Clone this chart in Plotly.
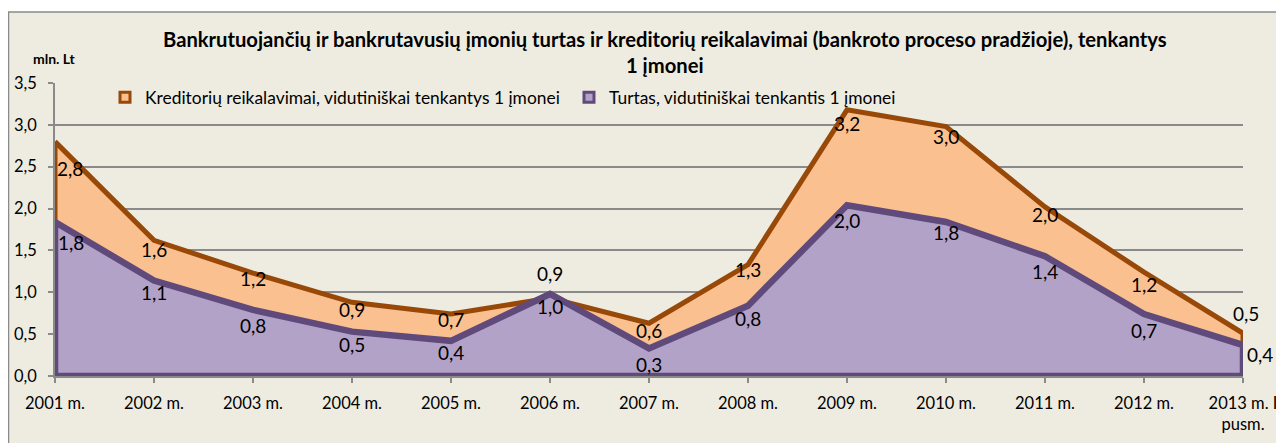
import plotly.graph_objects as go

# ---- data ----
categories = ["2001 m.", "2002 m.", "2003 m.", "2004 m.", "2005 m.", "2006 m.", "2007 m.",
              "2008 m.", "2009 m.", "2010 m.", "2011 m.", "2012 m.", "2013 m. I<br>pusm."]
kreditoriai = [2.80, 1.62, 1.23, 0.88, 0.74, 0.93, 0.63, 1.33, 3.18, 2.98, 2.02, 1.24, 0.51]
turtas = [1.84, 1.14, 0.79, 0.53, 0.42, 0.98, 0.33, 0.84, 2.04, 1.84, 1.43, 0.74, 0.37]
name_kred = "Kreditorių reikalavimai, vidutiniškai tenkantys 1 įmonei"
name_turtas = "Turtas, vidutiniškai tenkantis 1 įmonei"
title_line1 = "Bankrutuojančių ir bankrutavusių įmonių turtas ir kreditorių reikalavimai (bankroto proceso pradžioje), tenkantys"
title_line2 = "1 įmonei"
unit_label = "mln. Lt"
y_ticks = [0, 0.5, 1.0, 1.5, 2.0, 2.5, 3.0, 3.5]

# ---- label placement (pixel offsets of each value label from its point; style only) ----
kred_dy = [27, 9, 5, 7, 5, -25, 7, 5, 14, 10, 8, 12, -20]
kred_dx = [15, 0, 0, 0, 0, 0, 0, 0, 0, 0, 0, 0, 3]
tur_dy = [21, 12, 16, 13, 12, 13, 16, 13, 15, 11, 15, 16, 9]
tur_dx = [16, 0, 0, 0, 0, 0, 0, 0, 0, 0, 0, 0, 17]

# ---- styles ----
FONT = "Lato"
C_KRED_FILL, C_KRED_LINE = "#FAC090", "#984807"
C_TUR_FILL, C_TUR_LINE = "#B3A2C7", "#604A7B"
GRAY = "#8a8a8a"
BG = "#EEECE1"

OFF = 8  # page body margin offset
VW, VH = 1284, 443
W, H = VW - OFF, VH - OFF
PL, PR, PT, PB = 55, 1243, 83, 376  # plot area in page pixels
ML, MR, MT, MB = PL - OFF, VW - PR, PT - OFF, VH - PB
PW, PH = W - ML - MR, H - MT - MB


def px_x(p):
    return (p - PL) / PW


def px_y(p):
    return (PB - p) / PH


def closed(xs, ys):
    return xs + [xs[-1], xs[0], xs[0]], ys + [0, 0, ys[0]]


def fmt(v):
    return f"{v:.1f}".replace(".", ",")


fig = go.Figure()

kx, ky = closed(categories, kreditoriai)
fig.add_trace(go.Scatter(x=kx, y=ky, mode="lines", fill="toself", fillcolor=C_KRED_FILL,
                         line=dict(color=C_KRED_LINE, width=5), showlegend=False, hoverinfo="skip"))
tx, ty = closed(categories, turtas)
fig.add_trace(go.Scatter(x=tx, y=ty, mode="lines", fill="toself", fillcolor=C_TUR_FILL,
                         line=dict(color=C_TUR_LINE, width=6.5), showlegend=False, hoverinfo="skip"))

# legend entries
fig.add_trace(go.Scatter(x=[None], y=[None], mode="markers", name=name_kred, legend="legend",
                         marker=dict(symbol="square", size=10, color=C_KRED_FILL,
                                     line=dict(color=C_KRED_LINE, width=3))))
fig.add_trace(go.Scatter(x=[None], y=[None], mode="markers", name=name_turtas, legend="legend2",
                         marker=dict(symbol="square", size=10, color=C_TUR_FILL,
                                     line=dict(color=C_TUR_LINE, width=3))))

annotations = []
for series, dys, dxs in ((kreditoriai, kred_dy, kred_dx), (turtas, tur_dy, tur_dx)):
    for c, v, dy, dx in zip(categories, series, dys, dxs):
        annotations.append(dict(x=c, y=v, xref="x", yref="y", text=fmt(v), showarrow=False,
                                xanchor="center", yanchor="middle", xshift=dx, yshift=-dy,
                                font=dict(family=FONT, size=19, color="#000")))

annotations += [
    dict(text="<b>" + title_line1 + "</b>", xref="paper", yref="paper", x=px_x(665.5),
         y=px_y(39), xanchor="center", yanchor="middle", showarrow=False,
         font=dict(family=FONT, size=20.2, color="#000")),
    dict(text="<b>" + title_line2 + "</b>", xref="paper", yref="paper", x=px_x(665.5),
         y=px_y(65), xanchor="center", yanchor="middle", showarrow=False,
         font=dict(family=FONT, size=20.2, color="#000")),
    dict(text="<b>" + unit_label + "</b>", xref="paper", yref="paper", x=px_x(31),
         y=px_y(58), xanchor="left", yanchor="middle", showarrow=False,
         font=dict(family=FONT, size=14, color="#000")),
]

legend_common = dict(orientation="h", yanchor="middle", xanchor="left", bgcolor="rgba(0,0,0,0)",
                     font=dict(family=FONT, size=17.4, color="#000"))

fig.update_layout(
    width=W, height=H, autosize=False,
    margin=dict(l=ML, r=MR, t=MT, b=MB, pad=0, autoexpand=False),
    paper_bgcolor="white", plot_bgcolor="rgba(0,0,0,0)",
    separators=",.",
    font=dict(family=FONT, color="#000"),
    legend=dict(x=px_x(105), y=px_y(97.5), **legend_common),
    legend2=dict(x=px_x(569), y=px_y(97.5), **legend_common),
    xaxis=dict(type="category", range=[0, len(categories) - 1], showgrid=False, showline=True,
               linecolor=GRAY, linewidth=1.5, ticks="outside", ticklen=5, tickcolor=GRAY,
               tickwidth=1.5, tickfont=dict(family=FONT, size=16.5, color="#000"),
               ticklabelstandoff=6, zeroline=False, fixedrange=True, automargin=False),
    yaxis=dict(range=[0, 3.5], tickvals=y_ticks, tickformat=".1f", showgrid=True,
               gridcolor=GRAY, gridwidth=1.5, showline=True, linecolor=GRAY, linewidth=1.5,
               ticks="outside", ticklen=5, tickcolor=GRAY, tickwidth=1.5,
               tickfont=dict(family=FONT, size=16.5, color="#000"), ticklabelstandoff=8,
               zeroline=False, fixedrange=True, automargin=False),
    shapes=[dict(type="rect", xref="paper", yref="paper", x0=px_x(8.5), x1=px_x(VW + 20),
                 y0=px_y(VH + 20), y1=px_y(12), fillcolor=BG, line=dict(color=GRAY, width=1.5),
                 layer="below")],
    annotations=annotations,
)

fig.write_html("out.html")
